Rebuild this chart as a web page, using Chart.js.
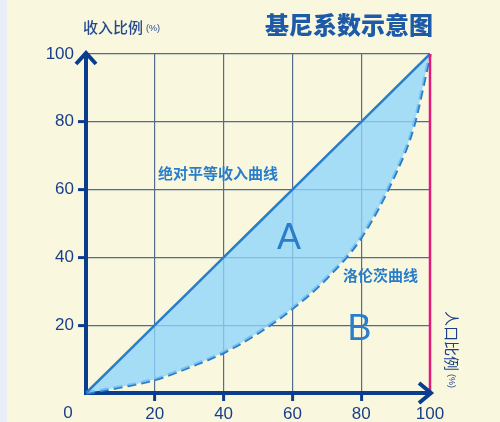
<!DOCTYPE html>
<html>
<head>
<meta charset="utf-8">
<script src="https://cdn.jsdelivr.net/npm/chart.js@4.4.1/dist/chart.umd.min.js"></script>
<style>
html,body{margin:0;padding:0;background:#f9f8de;}
#wrap{width:500px;height:422px;}
</style>
</head>
<body>
<div id="wrap"><canvas id="c" width="500" height="422"></canvas></div>
<script>
// ---- data ----
const populationShare = [0, 10, 20, 30, 40, 50, 60, 70, 80, 90, 95, 100];
const equalityIncome  = [0, 10, 20, 30, 40, 50, 60, 70, 80, 90, 95, 100];
const lorenzIncome    = [0, 1.8, 4, 7.7, 12, 17.8, 25, 34, 46, 65, 78, 100];
const boundaryX = [100, 100];
const boundaryY = [0, 100];
const tickValues = [0, 20, 40, 60, 80, 100];

const chartTitle = '基尼系数示意图';
const yAxisTitle = '收入比例';
const xAxisTitle = '人口比例';
const equalityLabel = '绝对平等收入曲线';
const lorenzLabel = '洛伦茨曲线';
const areaA = 'A';
const areaB = 'B';

const toPts = (xs, ys) => xs.map((x, i) => ({x: x, y: ys[i]}));

const AXIS = '#0b3d8f';
const LINE = '#2a7dc8';
const GRID = '#56698f';
const NUM = "'Liberation Sans', Arial, sans-serif";
const CJK = "'Noto Sans CJK SC', sans-serif";

const deco = {
  id: 'deco',
  beforeDraw(chart) {
    const ctx = chart.ctx;
    ctx.save();
    ctx.fillStyle = '#f9f8de';
    ctx.fillRect(0, 0, chart.width, chart.height);
    ctx.fillStyle = '#e9edf8';
    ctx.fillRect(0, 0, 7, chart.height);
    ctx.restore();
  },
  afterDraw(chart) {
    const ctx = chart.ctx;
    const xs = chart.scales.x, ys = chart.scales.y;
    const x0 = xs.getPixelForValue(0), x100 = xs.getPixelForValue(100);
    const y0 = ys.getPixelForValue(0), y100 = ys.getPixelForValue(100);
    ctx.save();
    // arrows
    ctx.strokeStyle = AXIS;
    ctx.lineWidth = 4;
    ctx.lineCap = 'butt';
    ctx.lineJoin = 'miter';
    ctx.beginPath();
    ctx.moveTo(x0 - 10, y100 + 10);
    ctx.lineTo(x0, y100 - 1);
    ctx.lineTo(x0 + 10, y100 + 10);
    ctx.stroke();
    ctx.beginPath();
    ctx.moveTo(x100 - 11, y0 - 10);
    ctx.lineTo(x100 + 1, y0);
    ctx.lineTo(x100 - 11, y0 + 10);
    ctx.stroke();

    // origin label
    ctx.fillStyle = '#1a3f8a';
    ctx.font = '17px ' + NUM;
    ctx.textAlign = 'center';
    ctx.textBaseline = 'middle';
    ctx.fillText('0', x0 - 18, 413);

    // title
    ctx.fillStyle = '#1d5aa8';
    ctx.font = '900 24px ' + CJK;
    ctx.textAlign = 'right';
    ctx.fillText(chartTitle, 433, 25);

    // y axis title
    ctx.fillStyle = '#24498c';
    ctx.textAlign = 'left';
    ctx.font = '500 15px ' + CJK;
    ctx.fillText(yAxisTitle, 83, 27);
    const w = ctx.measureText(yAxisTitle).width;
    ctx.font = '9px ' + NUM;
    ctx.fillText('(%)', 83 + w + 3, 29);

    // curve labels
    ctx.fillStyle = LINE;
    ctx.font = 'bold 15px ' + CJK;
    ctx.textAlign = 'left';
    ctx.fillText(equalityLabel, 158, 173);
    ctx.fillText(lorenzLabel, 343, 275);

    ctx.font = '36px ' + NUM;
    ctx.textAlign = 'center';
    ctx.fillText(areaA, xs.getPixelForValue(59), ys.getPixelForValue(45.5));
    ctx.fillText(areaB, xs.getPixelForValue(79.5), ys.getPixelForValue(18.5));

    // rotated x title
    ctx.translate(452, 350);
    ctx.rotate(Math.PI / 2);
    ctx.fillStyle = '#1a3f8a';
    ctx.textAlign = 'left';
    ctx.font = '15px ' + CJK;
    const tw = ctx.measureText(xAxisTitle).width;
    const total = tw + 18;
    ctx.fillText(xAxisTitle, -total / 2, 0);
    ctx.font = '9px ' + NUM;
    ctx.fillText('(%)', -total / 2 + tw + 3, 1);
    ctx.restore();
  }
};

new Chart(document.getElementById('c'), {
  type: 'line',
  data: {
    datasets: [
      {
        label: equalityLabel,
        data: toPts(populationShare, equalityIncome),
        borderColor: LINE,
        borderWidth: 2.5,
        pointRadius: 0,
        tension: 0,
        fill: '+1',
        backgroundColor: 'rgba(141,211,253,0.78)',
        clip: 6,
        order: 1
      },
      {
        label: lorenzLabel,
        data: toPts(populationShare, lorenzIncome),
        borderColor: LINE,
        borderWidth: 3.5,
        borderDash: [9, 5],
        pointRadius: 0,
        cubicInterpolationMode: 'monotone',
        fill: false,
        clip: 6,
        order: 2
      },
      {
        label: 'boundary',
        data: toPts(boundaryX, boundaryY),
        borderColor: '#e0197b',
        borderWidth: 2.5,
        pointRadius: 0,
        fill: false,
        clip: 6,
        order: 0
      }
    ]
  },
  options: {
    responsive: false,
    animation: false,
    devicePixelRatio: 1,
    layout: {padding: {top: 54, right: 70, left: 0, bottom: 0}},
    plugins: {legend: {display: false}, tooltip: {enabled: false}, title: {display: false}},
    scales: {
      x: {
        type: 'linear',
        min: 0, max: 100,
        afterBuildTicks: s => { s.ticks = tickValues.map(v => ({value: v})); },
        afterFit: s => { s.height = 29; },
        grid: {
          color: GRID, lineWidth: 1.2,
          tickLength: 8,
          tickColor: c => (c.tick && (c.tick.value === 0 || c.tick.value === 100)) ? 'rgba(0,0,0,0)' : AXIS,
          tickWidth: 3
        },
        border: {color: AXIS, width: 4},
        ticks: {
          color: '#1a3f8a',
          font: {family: NUM, size: 17},
          padding: 3,
          maxRotation: 0,
          callback: v => v === 0 ? '' : String(v)
        }
      },
      y: {
        type: 'linear',
        min: 0, max: 100,
        afterBuildTicks: s => { s.ticks = tickValues.map(v => ({value: v})); },
        afterFit: s => { s.width = 86; },
        grid: {
          color: GRID, lineWidth: 1.2,
          tickLength: 8,
          tickColor: c => (c.tick && (c.tick.value === 0 || c.tick.value === 100)) ? 'rgba(0,0,0,0)' : AXIS,
          tickWidth: 3
        },
        border: {color: AXIS, width: 4},
        ticks: {
          color: '#1a3f8a',
          font: {family: NUM, size: 17},
          padding: 4,
          callback: v => v === 0 ? '' : String(v)
        }
      }
    }
  },
  plugins: [deco]
});
</script>
</body>
</html>
